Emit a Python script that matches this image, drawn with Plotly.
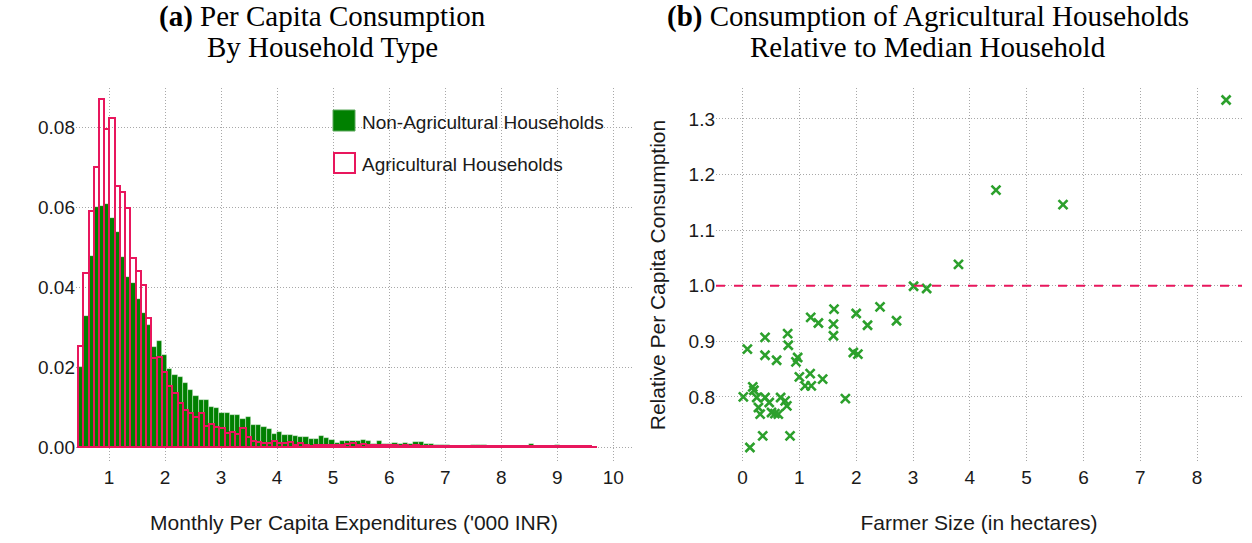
import plotly.graph_objects as go

# ---------------- data ----------------
# Panel (a): histogram densities, bins of equal width starting at bin_start
bin_start = 0.447
bin_width = 0.0935
non_agri = [
    0.0200, 0.0328, 0.0478, 0.0599, 0.0602, 0.0607, 0.0573, 0.0538, 0.0476, 0.0424,
    0.0409, 0.0370, 0.0334, 0.0305, 0.0249, 0.0264, 0.0230, 0.0194, 0.0181, 0.0175,
    0.0160, 0.0143, 0.0128, 0.0118, 0.0118, 0.0100, 0.0097, 0.0084, 0.0086, 0.0079,
    0.0079, 0.0069, 0.0076, 0.0055, 0.0055, 0.0049, 0.0044, 0.0033, 0.0038, 0.0031,
    0.0030, 0.0028, 0.0026, 0.0025, 0.0021, 0.0021, 0.0028, 0.0023, 0.0018, 0.0011,
    0.0016, 0.0016, 0.0016, 0.0015, 0.0018, 0.0016, 0.0008, 0.0016, 0.0008, 0.0008,
    0.0010, 0.0007, 0.0009, 0.0008, 0.0012, 0.0012, 0.0007, 0.0007, 0.0006, 0.0006,
    0.0004, 0.0003, 0.0003, 0.0003, 0.0003, 0.0006, 0.0004, 0.0004, 0.0002, 0.0002,
    0.0002, 0.0002, 0.0002, 0.0002, 0.0002, 0.0002, 0.0007, 0.0002, 0.0002, 0.0002,
    0.0002, 0.0006, 0.0002, 0.0002, 0.0002, 0.0002, 0.0002, 0.0002, 0.0001,
]
agri = [
    0.0253, 0.0436, 0.0589, 0.0701, 0.0869, 0.0794, 0.0823, 0.0653, 0.0637, 0.0597,
    0.0473, 0.0441, 0.0405, 0.0323, 0.0222, 0.0224, 0.0188, 0.0153, 0.0135, 0.0109,
    0.0093, 0.0086, 0.0076, 0.0086, 0.0053, 0.0058, 0.0049, 0.0047, 0.0036, 0.0038,
    0.0033, 0.0048, 0.0024, 0.0016, 0.0013, 0.0011, 0.0011, 0.0016, 0.0009, 0.0011,
    0.0013, 0.0005, 0.0011, 0.0004, 0.0003, 0.0004, 0.0004, 0.0005, 0.0004, 0.0004,
    0.0006, 0.0008, 0.0009, 0.0006, 0.0008, 0.0006, 0.0004, 0.0004, 0.0004, 0.0004,
    0.0004, 0.0003, 0.0004, 0.0003, 0.0004, 0.0003, 0.0003, 0.0003, 0.0003, 0.0003,
    0.0002, 0.0002, 0.0002, 0.0002, 0.0002, 0.0002, 0.0002, 0.0002, 0.0002, 0.0002,
    0.0002, 0.0002, 0.0002, 0.0002, 0.0002, 0.0002, 0.0002, 0.0002, 0.0002, 0.0002,
    0.0002, 0.0002, 0.0002, 0.0002, 0.0002, 0.0002, 0.0002, 0.0002, 0.0001,
]
hist_xticks = [1, 2, 3, 4, 5, 6, 7, 8, 9, 10]
hist_yticks = [0.00, 0.02, 0.04, 0.06, 0.08]

# Panel (b): farm size vs relative consumption
farm_size = [
    8.51, 4.46, 5.64, 3.80, 3.01, 3.24, 2.42, 2.00, 2.20, 2.71,
    1.95, 2.03, 1.81, 1.61, 1.20, 1.335, 1.60, 1.60, 0.396, 0.794,
    0.805, 0.085, 0.396, 0.60, 0.97, 0.94, 1.00, 1.19, 1.41, 1.10,
    1.21, 0.18, 0.20, 0.014, 0.25, 0.396, 0.47, 0.67, 0.75, 0.78,
    0.28, 0.31, 0.51, 0.57, 0.63, 0.355, 0.836, 0.13,
]
rel_cons = [
    1.334, 1.172, 1.146, 1.0385, 0.999, 0.995, 0.962, 0.950, 0.929, 0.937,
    0.880, 0.877, 0.797, 0.958, 0.943, 0.933, 0.931, 0.910, 0.907, 0.914,
    0.893, 0.886, 0.875, 0.866, 0.871, 0.863, 0.836, 0.842, 0.832, 0.820,
    0.820, 0.818, 0.812, 0.800, 0.799, 0.799, 0.790, 0.799, 0.793, 0.784,
    0.781, 0.769, 0.772, 0.770, 0.769, 0.730, 0.730, 0.709,
]
median_ref = 1.0
scatter_xticks = [0, 1, 2, 3, 4, 5, 6, 7, 8]
scatter_yticks = [0.8, 0.9, 1.0, 1.1, 1.2, 1.3]

# ---------------- styling ----------------
GREEN = "#008000"
PINK = "#E8175D"
SCAT = "#2ca02c"
GRID = "#a8a8a8"
TXT = "#1a1a1a"
SANS = "Liberation Sans, Arial, sans-serif"
SERIF = "Liberation Serif, Times New Roman, serif"

centers_g = [bin_start + bin_width * (i + 0.5) for i in range(len(non_agri))]
centers_p = [bin_start + bin_width * (i + 0.5) for i in range(len(agri))]

fig = go.Figure()
fig.add_trace(go.Bar(
    x=centers_g, y=non_agri, width=bin_width, xaxis="x", yaxis="y",
    marker=dict(color=GREEN, line=dict(color="rgba(255,255,255,0.55)", width=0.7)),
    name="Non-Agricultural Households", showlegend=False,
))
fig.add_trace(go.Bar(
    x=centers_p, y=agri, width=bin_width, xaxis="x", yaxis="y",
    marker=dict(color="rgba(0,0,0,0)", line=dict(color=PINK, width=2)),
    name="Agricultural Households", showlegend=False,
))
fig.add_trace(go.Scatter(
    x=farm_size, y=rel_cons, mode="markers", xaxis="x2", yaxis="y2",
    marker=dict(symbol="x-thin", size=9, color=SCAT, line=dict(color=SCAT, width=2.6)),
    showlegend=False,
))

# plot area in pixels: left 76 .. right 1242, top 88 .. bottom 462
L, R, T, B = 76, 1242, 88, 462
W = R - L
H = B - T


def px(xp):
    return (xp - L) / W


def py(yp):
    return (B - yp) / H


axis_common = dict(
    showgrid=True, gridcolor=GRID, griddash="1px,2px", gridwidth=1,
    zeroline=False, showline=False, ticks="",
    tickfont=dict(family=SANS, size=19, color=TXT),
)

fig.update_layout(
    width=1252, height=543,
    margin=dict(l=L, r=1252 - R, t=T, b=543 - B, pad=0),
    paper_bgcolor="white", plot_bgcolor="white",
    barmode="overlay", bargap=0,
    xaxis=dict(domain=[0, px(632)], range=[0.411, 10.334], tickvals=hist_xticks,
               ticklabelstandoff=2,
               title=dict(text="Monthly Per Capita Expenditures ('000 INR)",
                          font=dict(family=SANS, size=21, color=TXT), standoff=28),
               anchor="y", **axis_common),
    yaxis=dict(domain=[0, 1], range=[-0.00375, 0.08975], tickvals=hist_yticks,
               tickformat=".2f", anchor="x", **axis_common),
    xaxis2=dict(domain=[px(716), 1], range=[-0.467, 8.79], tickvals=scatter_xticks,
                ticklabelstandoff=2,
                title=dict(text="Farmer Size (in hectares)",
                           font=dict(family=SANS, size=21, color=TXT), standoff=28),
                anchor="y2", **axis_common),
    yaxis2=dict(domain=[0, 1], range=[0.683, 1.3556], tickvals=scatter_yticks,
                tickformat=".1f",
                title=dict(text="Relative Per Capita Consumption",
                           font=dict(family=SANS, size=21, color=TXT), standoff=17),
                anchor="x2", **axis_common),
)

# reference line at the median household
fig.add_shape(type="line", xref="x2 domain", yref="y2", x0=0, x1=1,
              y0=median_ref, y1=median_ref,
              line=dict(color=PINK, width=2, dash="dash"), layer="above")

# manual legend for panel (a)
fig.add_shape(type="rect", xref="paper", yref="paper",
              x0=px(333), x1=px(355), y0=py(131), y1=py(110),
              fillcolor=GREEN, line=dict(color="#5aa85a", width=1))
fig.add_shape(type="rect", xref="paper", yref="paper",
              x0=px(334), x1=px(355), y0=py(173), y1=py(153),
              fillcolor="white", line=dict(color=PINK, width=2))
fig.add_annotation(xref="paper", yref="paper", x=px(360), y=py(122), xanchor="left",
                   yanchor="middle", showarrow=False, text="Non-Agricultural Households",
                   font=dict(family=SANS, size=19, color=TXT))
fig.add_annotation(xref="paper", yref="paper", x=px(360), y=py(164), xanchor="left",
                   yanchor="middle", showarrow=False, text="Agricultural Households",
                   font=dict(family=SANS, size=19, color=TXT))

# panel titles (one annotation per line for tighter line spacing)
titles = [
    (322, "<b>(a)</b> Per Capita Consumption", "By Household Type"),
    (928, "<b>(b)</b> Consumption of Agricultural Households", "Relative to Median Household"),
]
for cx, line1, line2 in titles:
    for cy, txt in ((17, line1), (47, line2)):
        fig.add_annotation(xref="paper", yref="paper", x=px(cx), y=py(cy),
                           xanchor="center", yanchor="middle", showarrow=False,
                           text=txt, font=dict(family=SERIF, size=29, color="black"))

fig.write_html("out.html")
